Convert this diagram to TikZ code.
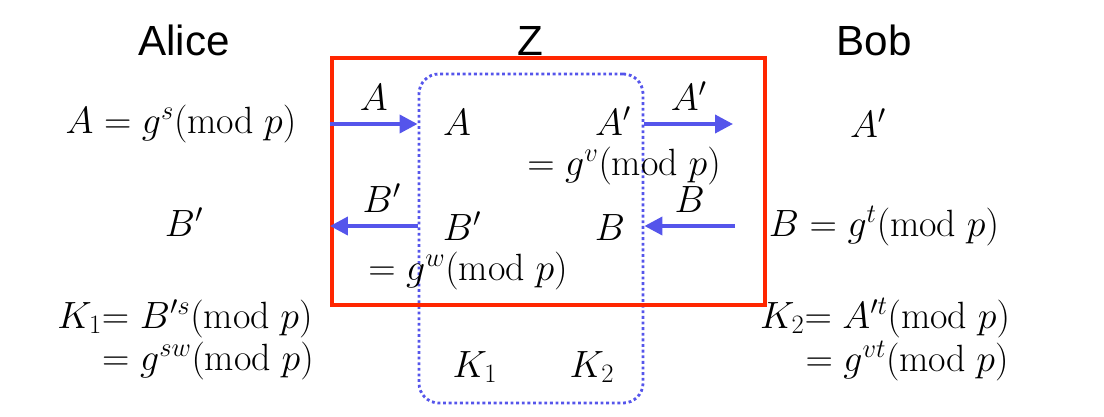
\RequirePackage{fix-cm}
\documentclass[tikz,border=0pt]{standalone}
\usepackage{fontspec}
\setsansfont{Liberation Sans}
\usepackage{tikz}
\usetikzlibrary{arrows.meta,positioning}
\definecolor{zred}{RGB}{255,38,0}
\definecolor{zblue}{RGB}{85,85,235}
\tikzset{
  party/.style={font=\sffamily\fontsize{30}{36}\selectfont, anchor=base, inner sep=0pt},
  term/.style={font=\fontsize{27}{32}\selectfont, anchor=base, inner sep=0pt},
  msglabel/.style={font=\fontsize{27}{32}\selectfont, inner sep=0pt, midway, above=0.3cm},
  msg/.style={draw=zblue, line width=2.7pt, -{Triangle[length=0.45cm,width=0.45cm]}},
  zbox/.style={draw=zblue, line width=2pt, dash pattern=on 2pt off 2pt,
               rounded corners=0.5cm, minimum width=5.6cm, minimum height=8.225cm, inner sep=0pt},
  redframe/.style={draw=zred, line width=2.85pt, minimum width=10.825cm,
                   minimum height=6.175cm, inner sep=0pt},
}
\begin{document}
\begin{tikzpicture}[x=0.025cm, y=-0.025cm]
\useasboundingbox (0,0) rectangle (1104,416);
% Parties
\node[party] (alice) at (184,55) {Alice};
\node[party] (eve) at (530,55) {Z};
\node[party] (bob) at (874,55) {Bob};
% Z's box and the intercepted channel
\node[zbox] (zbox) at (531,238.5) {};
\node[redframe] (chan) at (548.5,181.5) {};
% Alice
\node[term] (aliceA) at (181,133) {$A = g^{s}(\mathrm{mod}\;p)$};
\node[term] (aliceB) at (184,236) {$B'$};
\node[term] (aliceK) at (185,328) {$K_1{=}\;B'^{s}(\mathrm{mod}\;p)$};
\node[term] (aliceK2) at (208,370) {$=g^{sw}(\mathrm{mod}\;p)$};
% Z
\node[term] (zA) at (457,135) {$A$};
\node[term] (zA2) at (613,135) {$A'$};
\node[term] (zv) at (624,175) {$=g^{v}(\mathrm{mod}\;p)$};
\node[term] (zB2) at (462,240) {$B'$};
\node[term] (zB) at (610,240) {$B$};
\node[term] (zw) at (468,280) {$=g^{w}(\mathrm{mod}\;p)$};
\node[term] (zK1) at (475,377) {$K_1$};
\node[term] (zK2) at (592,377) {$K_2$};
% Bob
\node[term] (bobA) at (868,137) {$A'$};
\node[term] (bobB) at (884,236) {$B = g^{t}(\mathrm{mod}\;p)$};
\node[term] (bobK) at (885,328) {$K_2{=}\;A'^{t}(\mathrm{mod}\;p)$};
\node[term] (bobK2) at (907,371) {$=g^{vt}(\mathrm{mod}\;p)$};
% Messages
\coordinate (rowA) at (0,124);
\coordinate (rowB) at (0,226);
\coordinate (bobIn) at (733,124);
\coordinate (bobOut) at (735,226);
\draw[msg] (chan.west |- rowA) -- (zbox.west |- rowA) node[msglabel] (msgA) {$A$};
\draw[msg] (zbox.east |- rowA) -- (bobIn) node[msglabel] (msgA2) {$A'$};
\draw[msg] (zbox.west |- rowB) -- (chan.west |- rowB) node[msglabel, xshift=0.2cm] (msgB2) {$B'$};
\draw[msg] (bobOut) -- (zbox.east |- rowB) node[msglabel] (msgB) {$B$};
\end{tikzpicture}
\end{document}
